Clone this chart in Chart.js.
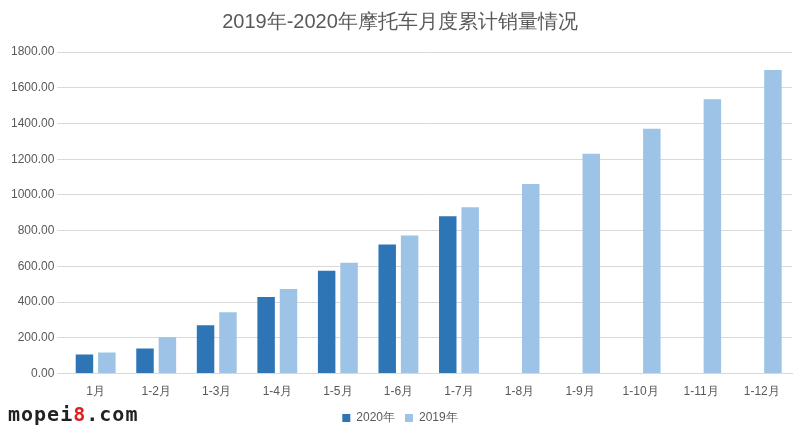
<!DOCTYPE html>
<html><head><meta charset="utf-8">
<script src="https://cdn.jsdelivr.net/npm/chart.js@4/dist/chart.umd.min.js"></script>
<style>
body{margin:0;background:#fff;font-family:"Noto Sans CJK SC","Noto Sans",sans-serif}
#wrap{position:relative;width:800px;height:438px}
#mark{position:absolute;left:8px;top:402px;font:bold 20px "DejaVu Sans Mono",monospace;color:#222;letter-spacing:1px}
#mark span{color:#e02020}
</style></head><body>
<div id="wrap"><canvas id="c" width="800" height="438"></canvas><div id="mark">mopei<span>8</span>.com</div></div>
<script>
const categories = ["1月","1-2月","1-3月","1-4月","1-5月","1-6月","1-7月","1-8月","1-9月","1-10月","1-11月","1-12月"];
const sales2020 = [107,141,271,429,576,722,880,null,null,null,null,null];
const sales2019 = [118,203,344,474,621,773,931,1061,1230,1371,1535,1699];

new Chart(document.getElementById("c"), {
  type: "bar",
  data: {
    labels: categories,
    datasets: [
      { label: "2020年", data: sales2020, backgroundColor: "#2e75b6", categoryPercentage: 0.74, barPercentage: 0.78 },
      { label: "2019年", data: sales2019, backgroundColor: "#9dc3e6", categoryPercentage: 0.74, barPercentage: 0.78 },
    ],
  },
  options: {
    responsive: false,
    animation: false,
    layout: { padding: { left: 8, right: 8, top: 6, bottom: 4 } },
    plugins: {
      title: { display: true, text: "2019年-2020年摩托车月度累计销量情况", color: "#595959", font: { size: 20, weight: "normal" }, padding: { top: 4, bottom: 18 } },
      legend: { position: "bottom", labels: { color: "#595959", boxWidth: 8, boxHeight: 8, font: { size: 12 } } },
    },
    scales: {
      x: { grid: { display: false }, border: { color: "#d9d9d9" }, ticks: { color: "#595959", font: { size: 12 } } },
      y: {
        min: 0, max: 1800,
        ticks: { stepSize: 200, color: "#595959", font: { size: 12 }, callback: (v) => v.toFixed(2) },
        grid: { color: "#d9d9d9" }, border: { display: false },
      },
    },
  },
});
</script></body></html>
